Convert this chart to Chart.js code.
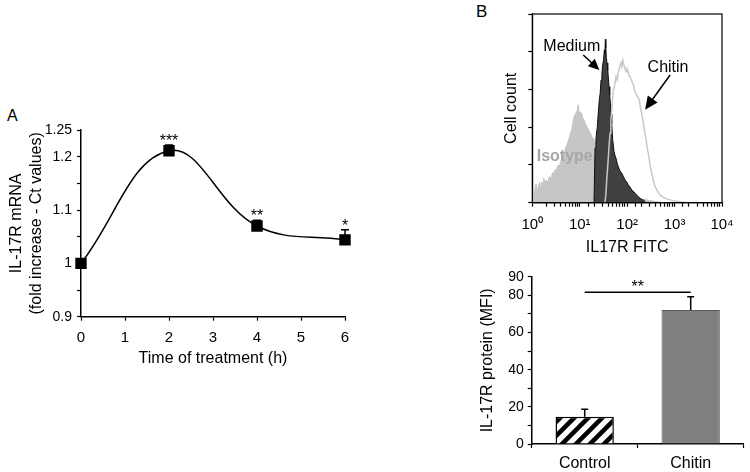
<!DOCTYPE html>
<html>
<head>
<meta charset="utf-8">
<script src="https://cdn.jsdelivr.net/npm/chart.js@4.4.1/dist/chart.umd.min.js"></script>
<style>
  body { margin: 0; background: #fff; width: 750px; height: 472px; position: relative; overflow: hidden;
         font-family: "Liberation Sans", Arial, Helvetica, sans-serif; }
  .box { position: absolute; }
  .letter { position: absolute; font-size: 16px; line-height: 16px; }
</style>
</head>
<body>
<div class="letter" style="left:7px;top:108px">A</div>
<div class="letter" style="left:476px;top:3px;font-size:17px;line-height:17px">B</div>
<div class="box" style="left:0;top:100px"><canvas id="chartA" width="360" height="270"></canvas></div>
<div class="box" style="left:480px;top:0"><canvas id="chartHist" width="270" height="260"></canvas></div>
<div class="box" style="left:480px;top:260px"><canvas id="chartBar" width="270" height="212"></canvas></div>

<script>
// ---- panel A : IL-17R mRNA time course
const hours = [0, 2, 4, 6];
const mrna = [1.0, 1.211, 1.070, 1.044];
const mrnaErr = [0, 0.011, 0.011, 0.019];
const mrnaStars = ['', '***', '**', '*'];
const mrnaTickValues = [0.9, 1, 1.1, 1.2, 1.25];
const mrnaTickLabels = ['0.9', '1', '1.1', '1.2', '1.25'];

// ---- panel B top : flow cytometry histograms (x = IL17R FITC, y = relative cell count)
const isoX = [1, 1.05, 1.1, 1.14, 1.2, 1.27, 1.34, 1.42, 1.5, 1.57, 1.65, 1.75, 1.85, 1.95, 2.05,
  2.18, 2.3, 2.43, 2.56, 2.7, 2.85, 3.0, 3.2, 3.35, 3.54, 3.75, 3.95, 4.16, 4.4, 4.65,
  4.89, 5.2, 5.45, 5.75, 6.1, 6.4, 6.76, 7.15, 7.57, 8.1, 8.61, 9.0, 9.34, 9.7, 10.1,
  10.5, 11.0, 11.6, 12.3, 13.1, 14.0, 15.2, 16.5, 17.9, 19.4, 21, 22.8, 26.8, 31, 37,
  44, 51, 65, 83, 105, 135, 190, 257, 330, 417, 600];
const isoY = [6, 9, 5, 7, 10, 6, 8.5, 11, 7, 11, 9, 13, 10, 12, 10.5,
  12, 14, 12.5, 14, 16, 15, 17.5, 16.5, 19, 20, 19, 22, 22.5, 24, 26,
  28, 30, 31, 33, 35, 37, 38.5, 42, 45.5, 47, 48, 50, 52, 48, 46.5,
  48, 47.5, 45, 44, 42, 40.5, 39, 37, 35, 34, 32, 29.5, 26, 22, 18,
  14, 10, 7, 5, 4, 3, 2, 1.5, 1, 0.5, 0];
const medX = [20, 21, 22, 23.5, 24.5, 25.9, 27, 28.1, 29.3, 30.5, 31.8, 33.1, 34, 34.7, 35.5,
  36.4, 37.6, 39.0, 40.2, 41.5, 42.9, 44.3, 45.7, 47.3, 49.6, 53, 55.5, 58.3, 61.5, 65.3,
  70, 76.9, 83, 90.3, 98, 106, 115, 125, 136, 147, 160, 172, 195, 220, 250];
const medY = [0, 29, 34, 40.3, 47, 54.4, 58, 65, 68, 73, 76, 81, 79, 86.6, 82,
  77, 74, 70, 66, 61.5, 57, 52.7, 47, 42, 33.2, 27, 25, 23.5, 21, 19,
  17, 15.6, 14, 12, 11, 9.4, 8.3, 6.7, 6, 5, 4, 3.2, 2, 1.4, 0];
const chitX = [34, 35.5, 37.1, 38.6, 40.2, 41.8, 43.6, 45.4, 47.3, 49.2, 51.2, 54.5, 58.3, 61.5, 65.3,
  69, 73.3, 77, 80.7, 84, 87.3, 91, 94.8, 99, 103, 109, 115, 123, 131, 139,
  147, 155, 164, 172, 181, 188, 196, 208, 220, 235, 251, 268, 286, 307, 330,
  358, 388, 440, 494, 580, 684, 800, 944, 1300, 2000];
const chitY = [0, 4, 12, 18, 24.4, 31, 36.8, 43.5, 49, 55, 59.7, 62, 66.8, 65, 69.4,
  71.5, 73.9, 72, 75.6, 74, 72, 70.5, 69.4, 71, 70.3, 67.5, 66.8, 65, 63.3, 61.5,
  58.8, 57.5, 56.2, 55.5, 54.4, 51.5, 49, 45.5, 42, 37.5, 33.2, 28.5, 24.4, 19.5, 15.6,
  11.5, 8.5, 6, 4, 3, 2, 1.5, 1, 0.5, 0];
const fitcTicks = [1, 10, 100, 1000, 10000];
const fitcLabels = ['10⁰', '10¹', '10²', '10³', '10⁴'];

// ---- panel B bottom : MFI bars
const groups = ['Control', 'Chitin'];
const mfi = [14.7, 72.1];
const mfiErr = [4.0, 7.1];
const mfiSig = '**';
const mfiTickValues = [0, 20, 40, 60, 80, 90];

const FONT = '"Liberation Sans", Arial, Helvetica, sans-serif';
Chart.defaults.font.family = FONT;
Chart.defaults.font.size = 16;
Chart.defaults.color = '#000';
Chart.defaults.animation = false;
Chart.defaults.plugins.legend.display = false;
Chart.defaults.plugins.tooltip.enabled = false;

const pts = (xs, ys) => xs.map((x, i) => ({ x: x, y: ys[i] }));

function axisGrid() {
  return { drawOnChartArea: false, drawTicks: true, tickLength: 4, color: '#000', tickColor: '#000', tickWidth: 1.2 };
}

// ----------------- A
const errorBarsA = {
  id: 'errorBarsA',
  afterDatasetsDraw(chart) {
    const { ctx, scales: { x, y } } = chart;
    ctx.save();
    ctx.strokeStyle = '#000';
    ctx.fillStyle = '#000';
    ctx.lineWidth = 1.5;
    ctx.font = '16px ' + FONT;
    ctx.textAlign = 'center';
    ctx.textBaseline = 'alphabetic';
    hours.forEach((h, i) => {
      const px = x.getPixelForValue(h);
      const y0 = y.getPixelForValue(mrna[i]);
      const y1 = y.getPixelForValue(mrna[i] + mrnaErr[i]);
      if (mrnaErr[i] > 0) {
        ctx.beginPath();
        ctx.moveTo(px, y0); ctx.lineTo(px, y1);
        ctx.moveTo(px - 4, y1); ctx.lineTo(px + 4, y1);
        ctx.stroke();
      }
      if (mrnaStars[i]) ctx.fillText(mrnaStars[i], px, y1 + 1);
    });
    ctx.restore();
  }
};

new Chart(document.getElementById('chartA'), {
  type: 'line',
  data: {
    datasets: [{
      data: pts(hours, mrna),
      borderColor: '#000',
      borderWidth: 1.5,
      tension: 0.4,
      clip: false,
      pointStyle: 'rect',
      pointRadius: 7,
      pointBackgroundColor: '#000',
      pointBorderColor: '#000'
    }]
  },
  options: {
    responsive: false,
    layout: { padding: { top: 30, right: 15, left: 0, bottom: 0 } },
    scales: {
      x: {
        type: 'linear', min: 0, max: 6,
        ticks: { stepSize: 1, padding: 8, font: { size: 15 } },
        grid: axisGrid(),
        border: { color: '#000', width: 1.5 },
        title: { display: true, text: 'Time of treatment (h)', padding: { top: 0, bottom: 2 } },
        afterFit(s) { s.height = 53.3; }
      },
      y: {
        min: 0.9, max: 1.25,
        ticks: {
          stepSize: 0.05, padding: 5, autoSkip: false, font: { size: 14 },
          callback(v) {
            const i = mrnaTickValues.findIndex(t => Math.abs(t - v) < 1e-6);
            return i >= 0 ? mrnaTickLabels[i] : '';
          }
        },
        grid: axisGrid(),
        border: { color: '#000', width: 1.5 },
        title: { display: true, text: ['IL-17R mRNA', '(fold increase - Ct values)'], font: { lineHeight: 1.25 }, padding: { top: 7 } },
        afterFit(s) { s.width = 81; }
      }
    }
  },
  plugins: [errorBarsA]
});

// ----------------- B histogram
function arrow(ctx, x1, y1, x2, y2, len, half) {
  const a = Math.atan2(y2 - y1, x2 - x1);
  const c = Math.cos(a), s = Math.sin(a);
  ctx.beginPath();
  ctx.moveTo(x1, y1);
  ctx.lineTo(x2 - len * 0.8 * c, y2 - len * 0.8 * s);
  ctx.stroke();
  ctx.beginPath();
  ctx.moveTo(x2, y2);
  ctx.lineTo(x2 - len * c + half * s, y2 - len * s - half * c);
  ctx.lineTo(x2 - len * c - half * s, y2 - len * s + half * c);
  ctx.closePath();
  ctx.fill();
}

const histDecor = {
  id: 'histDecor',
  afterDraw(chart) {
    const { ctx, chartArea: a, scales: { x, y } } = chart;
    ctx.save();
    ctx.strokeStyle = '#000';
    ctx.lineWidth = 1.2;
    ctx.strokeRect(a.left, a.top, a.right - a.left, a.bottom - a.top);

    ctx.textAlign = 'center';
    ctx.textBaseline = 'middle';
    ctx.fillStyle = '#000';
    ctx.font = '16px ' + FONT;
    ctx.fillText('Medium', x.getPixelForValue(6.8), y.getPixelForValue(82.7));
    ctx.fillText('Chitin', x.getPixelForValue(729), y.getPixelForValue(71.4));
    ctx.fillStyle = '#a6a6a6';
    ctx.font = 'bold 16px ' + FONT;
    ctx.fillText('Isotype', x.getPixelForValue(4.83), y.getPixelForValue(24.4));

    ctx.fillStyle = '#000';
    ctx.lineWidth = 1.5;
    arrow(ctx, x.getPixelForValue(11.9), y.getPixelForValue(78.3), x.getPixelForValue(25.9), y.getPixelForValue(70.3), 11, 5);
    arrow(ctx, x.getPixelForValue(804), y.getPixelForValue(67.7), x.getPixelForValue(239), y.getPixelForValue(49.3), 13, 6);
    ctx.restore();
  }
};

new Chart(document.getElementById('chartHist'), {
  type: 'line',
  data: {
    datasets: [
      { label: 'Chitin', data: pts(chitX, chitY), borderColor: '#c8c8c8', borderWidth: 1.5, fill: false, pointRadius: 0, tension: 0 },
      { label: 'Medium', data: pts(medX, medY), borderColor: '#111', backgroundColor: '#404040', borderWidth: 1, fill: 'origin', pointRadius: 0, tension: 0 },
      { label: 'Isotype', data: pts(isoX, isoY), borderColor: '#c4c4c4', backgroundColor: '#c6c6c6', borderWidth: 1, fill: 'origin', pointRadius: 0, tension: 0 }
    ]
  },
  options: {
    responsive: false,
    layout: { padding: { top: 14, right: 28, left: 0, bottom: 0 } },
    scales: {
      x: {
        type: 'logarithmic', min: 1, max: 10000,
        ticks: {
          autoSkip: false, maxRotation: 0, padding: 9, font: { size: 15 },
          callback(v) {
            const i = fitcTicks.findIndex(t => Math.abs(Math.log10(t) - Math.log10(v)) < 1e-6);
            return i >= 0 ? fitcLabels[i] : '';
          }
        },
        grid: axisGrid(),
        border: { color: '#000', width: 1.2 },
        title: { display: true, text: 'IL17R FITC', padding: { top: 0, bottom: 3 } },
        afterFit(s) { s.height = 57.3; }
      },
      y: {
        min: 0, max: 100,
        ticks: { stepSize: 20, callback: () => '' },
        grid: axisGrid(),
        border: { color: '#000', width: 1.2 },
        title: { display: true, text: 'Cell count', padding: { top: 22 } },
        afterFit(s) { s.width = 52.3; }
      }
    }
  },
  plugins: [histDecor]
});

// ----------------- B bars
function stripes() {
  const c = document.createElement('canvas');
  c.width = c.height = 14;
  const g = c.getContext('2d');
  g.fillStyle = '#fff';
  g.fillRect(0, 0, 14, 14);
  g.strokeStyle = '#000';
  g.lineWidth = 4.5;
  g.beginPath();
  g.moveTo(0, 14); g.lineTo(14, 0);
  g.moveTo(-7, 7); g.lineTo(7, -7);
  g.moveTo(7, 21); g.lineTo(21, 7);
  g.stroke();
  return g.createPattern(c, 'repeat');
}

const errorBarsB = {
  id: 'errorBarsB',
  afterDatasetsDraw(chart) {
    const { ctx, scales: { x, y } } = chart;
    ctx.save();
    ctx.strokeStyle = '#000';
    ctx.lineWidth = 1.5;
    groups.forEach((g, i) => {
      const px = x.getPixelForValue(i);
      const y0 = y.getPixelForValue(mfi[i]);
      const y1 = y.getPixelForValue(mfi[i] + mfiErr[i]);
      ctx.beginPath();
      ctx.moveTo(px, y0); ctx.lineTo(px, y1);
      ctx.moveTo(px - 3.5, y1); ctx.lineTo(px + 3.5, y1);
      ctx.stroke();
    });
    // significance bracket
    const xa = x.getPixelForValue(0), xb = x.getPixelForValue(1);
    const ys = y.getPixelForValue(81.6);
    ctx.beginPath();
    ctx.moveTo(xa, ys); ctx.lineTo(xb, ys);
    ctx.stroke();
    ctx.fillStyle = '#000';
    ctx.font = '16px ' + FONT;
    ctx.textAlign = 'center';
    ctx.textBaseline = 'alphabetic';
    ctx.fillText(mfiSig, (xa + xb) / 2, ys);
    ctx.restore();
  }
};

new Chart(document.getElementById('chartBar'), {
  type: 'bar',
  data: {
    labels: groups,
    datasets: [{
      data: mfi,
      backgroundColor: [stripes(), '#7f7f7f'],
      borderColor: ['#000', '#5a5a5a'],
      borderWidth: [1.5, 1],
      categoryPercentage: 1,
      barPercentage: 0.55
    }]
  },
  options: {
    responsive: false,
    layout: { padding: { top: 16.7, right: 6.3, left: 0, bottom: 0 } },
    scales: {
      x: {
        ticks: { padding: 6 },
        grid: Object.assign(axisGrid(), { offset: true }),
        border: { color: '#000', width: 1.5 },
        afterFit(s) { s.height = 28; }
      },
      y: {
        min: 0, max: 90,
        ticks: {
          stepSize: 10, padding: 4, autoSkip: false, font: { size: 14 },
          callback(v) { return mfiTickValues.includes(v) ? String(v) : ''; }
        },
        grid: axisGrid(),
        border: { color: '#000', width: 1.5 },
        title: { display: true, text: 'IL-17R protein (MFI)', font: { lineHeight: 1 }, padding: { top: 0, bottom: 0 } },
        afterFit(s) { s.width = 51.7; }
      }
    }
  },
  plugins: [errorBarsB]
});
</script>
</body>
</html>
